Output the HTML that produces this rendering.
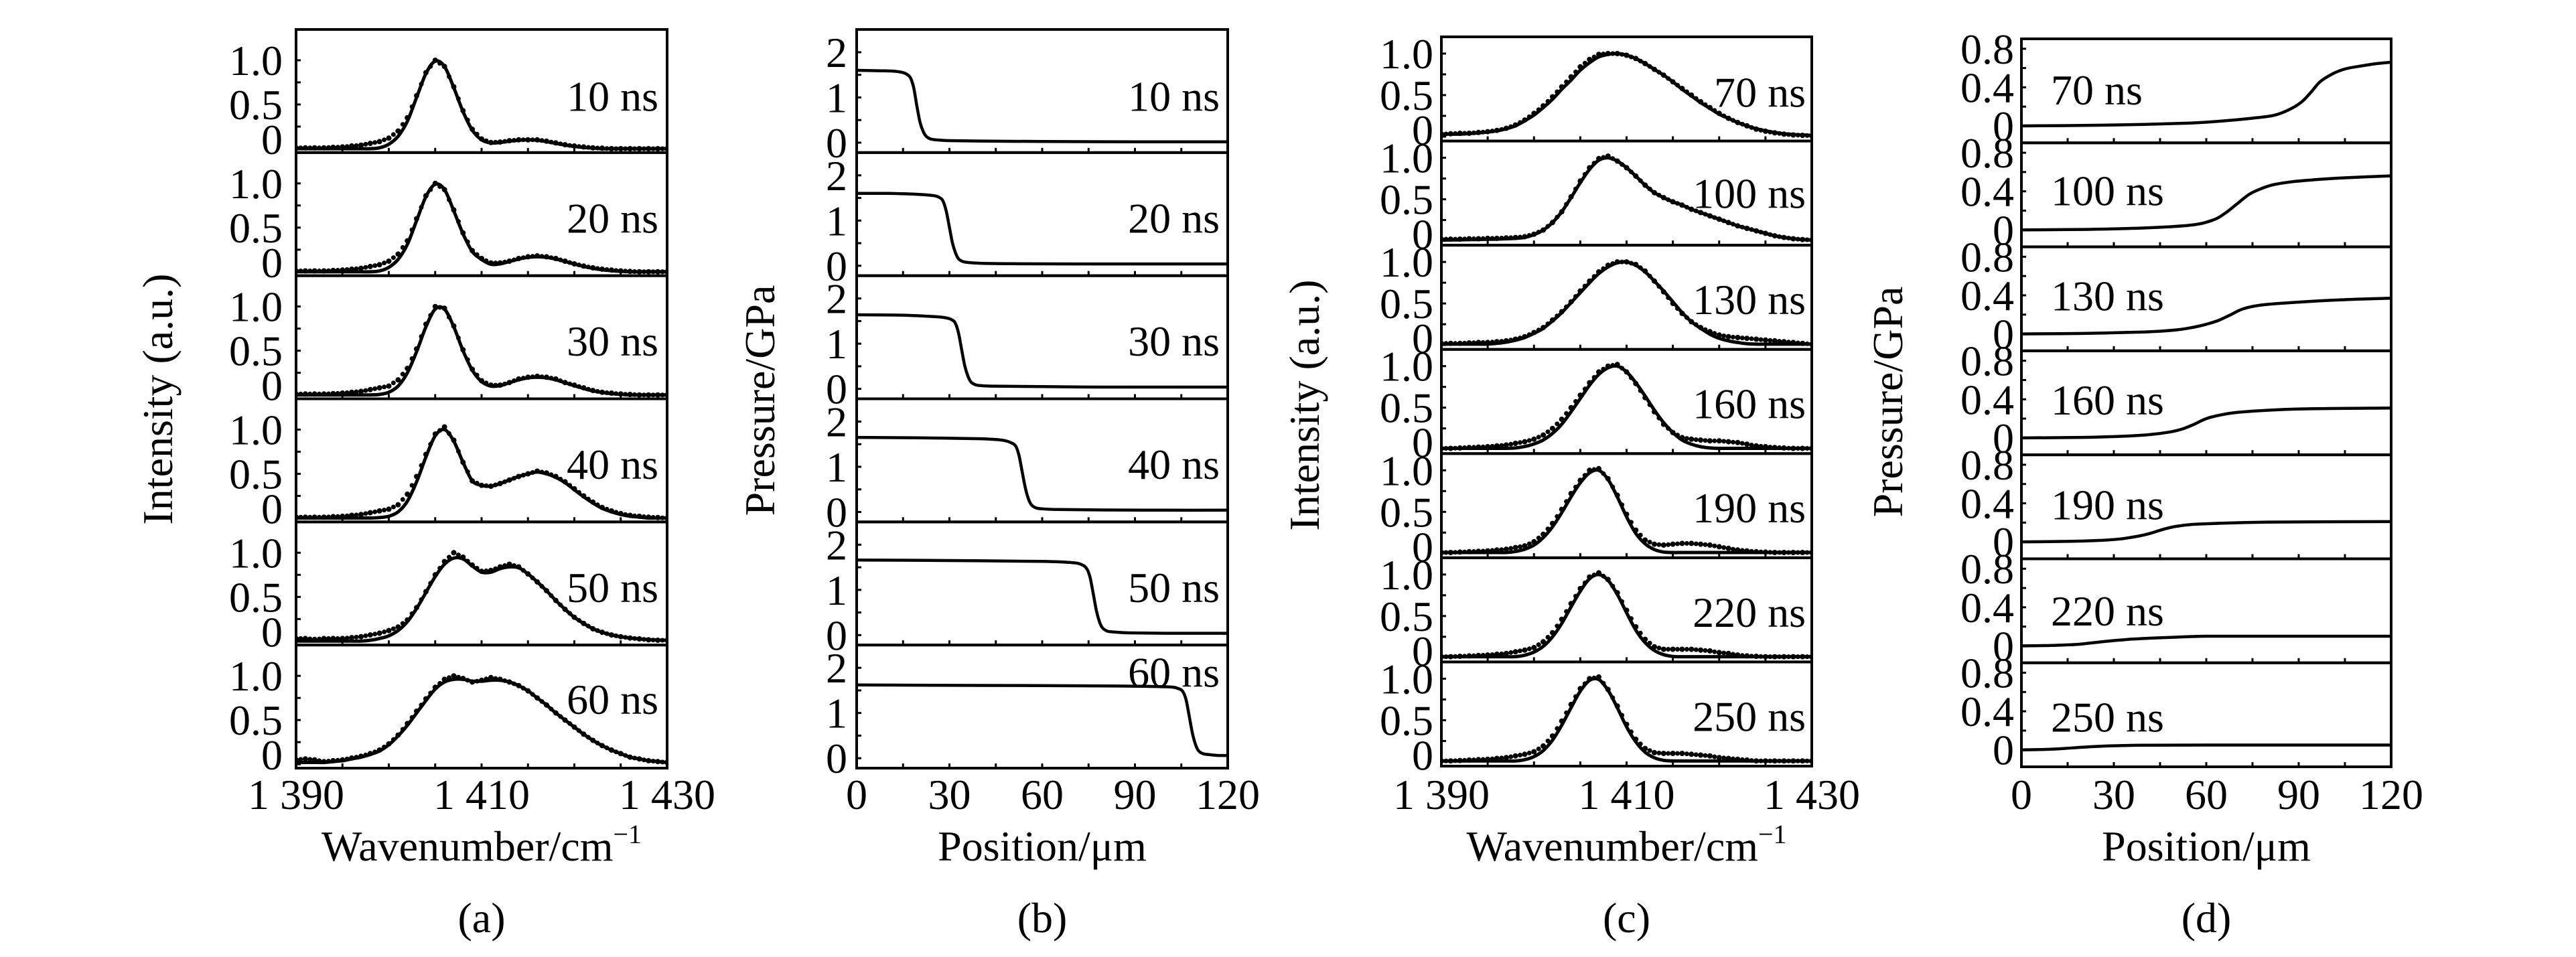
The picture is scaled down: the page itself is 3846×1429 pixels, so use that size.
<!DOCTYPE html>
<html><head><meta charset="utf-8">
<style>
html,body{margin:0;padding:0;background:#fff;}
svg{display:block;}
svg text{font-family:"Times New Roman","Times","Liberation Serif","DejaVu Serif",serif;fill:#000;}
</style></head>
<body>
<svg id="fig" xmlns="http://www.w3.org/2000/svg" width="3846" height="1429" viewBox="0 0 3846 1429">
<rect x="0" y="0" width="3846" height="1429" fill="#fff"/>
</svg>
<script>
// ---------- DATA ----------
const wavenumbers = [1390,1391,1392,1393,1394,1395,1396,1397,1398,1399,1400,1401,1402,1403,1404,1405,1406,1407,1408,1409,1410,1411,1412,1413,1414,1415,1416,1417,1418,1419,1420,1421,1422,1423,1424,1425,1426,1427,1428,1429,1430];
const labelsA = ["10 ns","20 ns","30 ns","40 ns","50 ns","60 ns"];
const labelsC = ["70 ns","100 ns","130 ns","160 ns","190 ns","220 ns","250 ns"];
const fitA = [
 [0,0,0,0,0,0,0,0,0,.01,.05,.14,.31,.58,.85,.99,.93,.69,.42,.21,.1,.065,.07,.085,.095,.1,.095,.08,.06,.04,.025,.014,.007,0,0,0,0,0,0,0,0],
 [0,0,0,0,0,0,0,0,0,.01,.05,.14,.31,.58,.85,.99,.93,.69,.43,.23,.14,.085,.09,.117,.144,.163,.17,.163,.144,.117,.088,.061,.039,.023,.012,.006,0,0,0,0,0],
 [0,0,0,0,0,0,0,0,0,.005,.03,.1,.25,.49,.77,.97,.97,.77,.5,.28,.15,.1,.104,.138,.17,.192,.2,.192,.17,.138,.104,.072,.046,.027,.014,.007,0,0,0,0,0],
 [0,0,0,0,0,0,0,0,0,.005,.02,.07,.19,.41,.69,.93,1.0,.87,.63,.42,.37,.36,.39,.43,.47,.5,.52,.5,.46,.4,.32,.24,.17,.11,.07,.04,.02,.01,0,0,0],
 [0,0,0,0,0,0,0,0,.01,.03,.06,.12,.22,.37,.55,.73,.87,.94,.93,.85,.78,.78,.82,.84,.83,.76,.67,.57,.46,.36,.27,.2,.14,.1,.07,.05,.035,.025,.018,.012,.01],
 [.02,.02,.02,.02,.03,.04,.06,.08,.11,.15,.22,.32,.44,.58,.72,.85,.93,.96,.96,.94,.94,.95,.95,.93,.89,.83,.75,.67,.58,.5,.42,.34,.27,.21,.16,.12,.08,.06,.04,.03,.02]
];
const dotsA = [
 [.01,.01,.01,.01,.015,.02,.03,.04,.06,.08,.12,.2,.35,.6,.86,1.0,.93,.7,.43,.22,.11,.07,.075,.09,.1,.1,.1,.085,.065,.045,.03,.02,.01,.005,0,0,0,0,0,0,0],
 [.01,.01,.01,.01,.015,.02,.03,.04,.06,.08,.12,.2,.35,.6,.86,1.0,.93,.7,.44,.24,.15,.1,.1,.12,.15,.17,.18,.17,.15,.12,.09,.065,.045,.03,.02,.01,.005,0,0,0,0],
 [.01,.01,.01,.01,.015,.02,.03,.04,.06,.08,.1,.17,.3,.52,.8,1.0,.98,.78,.51,.29,.16,.11,.11,.14,.18,.2,.21,.2,.18,.14,.11,.08,.05,.03,.02,.01,.005,0,0,0,0],
 [.01,.01,.01,.01,.015,.02,.03,.04,.06,.08,.1,.15,.27,.47,.72,.95,1.03,.88,.63,.42,.37,.36,.39,.43,.47,.5,.53,.51,.47,.41,.33,.25,.18,.12,.08,.05,.03,.02,.01,.005,0],
 [.03,.03,.02,.03,.03,.03,.04,.05,.07,.09,.12,.16,.24,.38,.56,.75,.9,1.0,.95,.86,.79,.8,.84,.87,.84,.76,.67,.57,.46,.36,.27,.2,.14,.1,.07,.05,.035,.025,.015,.01,.01],
 [.05,.06,.05,.03,.04,.05,.07,.09,.12,.16,.23,.33,.46,.6,.74,.87,.96,1.0,.97,.93,.95,.98,.96,.93,.89,.83,.75,.67,.58,.5,.42,.34,.27,.21,.16,.12,.08,.06,.04,.03,.02]
];
const fitC = [
 [.03,.03,.03,.037,.045,.055,.07,.095,.13,.19,.26,.35,.45,.57,.68,.8,.89,.96,.99,1.0,.98,.94,.88,.81,.74,.66,.57,.49,.41,.34,.27,.22,.17,.13,.095,.07,.05,.035,.025,.02,.015],
 [.01,.01,.012,.014,.016,.018,.02,.025,.03,.04,.075,.13,.22,.35,.52,.7,.86,.97,1.0,.96,.88,.78,.67,.58,.52,.47,.43,.38,.34,.3,.26,.22,.18,.15,.12,.09,.06,.04,.025,.015,.01],
 [.01,.01,.01,.01,.01,.01,.02,.034,.057,.09,.14,.2,.29,.39,.51,.63,.75,.86,.94,.99,1.0,.96,.88,.77,.65,.52,.39,.28,.2,.13,.08,.05,.03,.015,.01,.01,.01,.01,.01,.01,.01],
 [.01,.01,.01,.01,.01,.01,.01,.01,.015,.032,.063,.11,.19,.3,.45,.61,.77,.9,.98,1.0,.93,.8,.64,.47,.32,.2,.11,.06,.03,.015,.01,.01,.01,.01,.01,.01,.01,.01,.01,.01,.01],
 [.01,.01,.01,.01,.01,.01,.01,.01,.023,.05,.1,.19,.32,.49,.68,.85,.97,1.0,.89,.68,.44,.24,.115,.046,.016,.01,.01,.01,.01,.01,.01,.01,.01,.01,.01,.01,.01,.01,.01,.01,.01],
 [.01,.01,.01,.01,.01,.01,.01,.01,.011,.028,.066,.135,.25,.41,.61,.8,.95,1.0,.93,.76,.54,.33,.18,.085,.035,.013,.01,.01,.01,.01,.01,.01,.01,.01,.01,.01,.01,.01,.01,.01,.01],
 [.01,.01,.01,.01,.01,.01,.01,.01,.01,.025,.062,.135,.26,.44,.65,.85,.98,.99,.86,.65,.42,.24,.115,.048,.017,.01,.01,.01,.01,.01,.01,.01,.01,.01,.01,.01,.01,.01,.01,.01,.01]
];
const dotsC = [
 [.03,.035,.04,.04,.05,.06,.075,.1,.14,.2,.28,.37,.48,.6,.72,.84,.93,.99,1.0,1.0,.98,.94,.88,.81,.74,.66,.58,.5,.42,.35,.28,.22,.17,.13,.09,.065,.045,.03,.02,.015,.01],
 [.02,.02,.02,.025,.025,.03,.03,.035,.04,.05,.08,.13,.22,.35,.53,.72,.88,.99,1.02,.96,.88,.78,.67,.58,.52,.47,.43,.38,.34,.3,.26,.22,.18,.15,.12,.09,.06,.04,.025,.015,.01],
 [.02,.02,.02,.025,.03,.03,.04,.05,.07,.1,.15,.21,.3,.4,.52,.65,.77,.88,.96,1.0,1.0,.97,.89,.77,.64,.5,.38,.28,.21,.16,.12,.1,.09,.08,.07,.06,.05,.04,.03,.02,.01],
 [.01,.01,.015,.02,.025,.03,.04,.05,.07,.09,.12,.17,.25,.36,.5,.65,.8,.93,1.0,1.02,.93,.79,.62,.45,.3,.2,.14,.12,.11,.1,.1,.09,.08,.06,.04,.03,.02,.015,.01,.01,.01],
 [.01,.01,.015,.02,.025,.03,.04,.05,.07,.09,.14,.23,.36,.53,.72,.88,1.0,1.02,.9,.7,.47,.28,.16,.11,.1,.11,.12,.12,.11,.1,.08,.06,.04,.03,.02,.015,.01,.01,.01,.01,.01],
 [.01,.01,.015,.02,.025,.03,.04,.05,.07,.09,.12,.19,.3,.46,.65,.83,.97,1.02,.94,.78,.57,.37,.22,.13,.1,.1,.1,.1,.09,.08,.06,.05,.03,.02,.015,.01,.01,.01,.01,.01,.01],
 [.01,.01,.015,.02,.025,.03,.04,.05,.07,.09,.12,.19,.31,.49,.69,.88,1.0,1.02,.87,.67,.45,.27,.16,.11,.1,.1,.1,.09,.08,.07,.05,.04,.03,.02,.01,.01,.01,.01,.01,.01,.01]
];
const labelsB = ["10 ns","20 ns","30 ns","40 ns","50 ns","60 ns"];
const posB = [
 [0,8,12,15,16.5,17.5,18.5,19.5,20.5,21.5,22.5,24,26,30,40,60,90,120],
 [0,10,20,25,27,28,29,30,31,32,33,34.5,36.5,40,50,70,100,120],
 [0,15,25,29,31,32,33,34,35,36,37,38.5,40.5,45,60,80,100,120],
 [0,20,40,47,50,51.5,52.5,53.5,54.5,55.5,56.5,58,60,65,80,100,120],
 [0,30,60,70,73,74.5,75.5,76.5,77.5,78.5,79.5,81,83,88,100,120],
 [0,40,80,100,104,105.5,106.5,107.5,108.5,109.5,110.5,112,114,117,120]
];
const presB = [
 [1.6,1.59,1.58,1.55,1.5,1.42,1.2,0.8,0.45,0.25,0.14,0.08,0.06,0.045,0.035,0.025,0.02,0.02],
 [1.6,1.6,1.58,1.55,1.5,1.42,1.2,0.85,0.5,0.28,0.15,0.09,0.07,0.055,0.045,0.04,0.04,0.04],
 [1.64,1.63,1.6,1.57,1.52,1.44,1.22,0.85,0.5,0.28,0.15,0.09,0.07,0.06,0.05,0.04,0.04,0.04],
 [1.65,1.64,1.62,1.59,1.53,1.45,1.25,0.9,0.55,0.3,0.16,0.09,0.07,0.055,0.045,0.04,0.04],
 [1.66,1.65,1.63,1.6,1.55,1.46,1.27,0.92,0.55,0.3,0.16,0.09,0.07,0.05,0.04,0.04],
 [1.62,1.61,1.6,1.58,1.54,1.47,1.3,0.95,0.58,0.32,0.17,0.1,0.08,0.06,0.06]
];
const labelsD = ["70 ns","100 ns","130 ns","160 ns","190 ns","220 ns","250 ns"];
const posD = [
 [0,20,40,55,65,75,82,87,91,94,97,101,105,110,115,120],
 [0,20,40,55,62,66,70,74,78,82,88,95,105,120],
 [0,20,40,50,56,60,64,68,72,78,90,105,120],
 [0,20,35,42,48,52,56,60,65,72,90,120],
 [0,15,25,32,38,42,46,50,55,62,80,120],
 [0,10,18,24,30,36,42,50,60,80,120],
 [0,8,14,20,26,32,40,60,120]
];
const presD = [
 [0,0.005,0.015,0.03,0.05,0.08,0.11,0.17,0.25,0.35,0.46,0.54,0.59,0.62,0.645,0.66],
 [0,0.005,0.02,0.05,0.1,0.17,0.27,0.37,0.43,0.47,0.5,0.52,0.54,0.56],
 [0,0.005,0.02,0.04,0.07,0.1,0.14,0.2,0.26,0.3,0.33,0.355,0.37],
 [0,0.005,0.02,0.035,0.06,0.09,0.14,0.2,0.24,0.27,0.3,0.31],
 [0,0.005,0.015,0.03,0.06,0.09,0.13,0.16,0.18,0.19,0.205,0.21],
 [0,0.005,0.015,0.035,0.055,0.07,0.08,0.09,0.1,0.1,0.1],
 [0,0.005,0.015,0.028,0.038,0.044,0.048,0.05,0.05]
];
const wnTicks = [1390,1410,1430];
const wnTickLabels = ["1 390","1 410","1 430"];
const posTicks = [0,30,60,90,120];
const posTickLabels = ["0","30","60","90","120"];

// ---------- DRAWING ----------
const NS = "http://www.w3.org/2000/svg";
const svg = document.getElementById("fig");
function mk(tag, attrs, parent){
  const e = document.createElementNS(NS, tag);
  for (const k in attrs) e.setAttribute(k, attrs[k]);
  (parent||svg).appendChild(e);
  return e;
}
function smooth(pts){
  let d = "M" + pts[0][0].toFixed(1) + "," + pts[0][1].toFixed(1);
  for (let i=0;i<pts.length-1;i++){
    const p0=pts[i-1]||pts[i], p1=pts[i], p2=pts[i+1], p3=pts[i+2]||pts[i+1];
    const c1x=p1[0]+(p2[0]-p0[0])/6, c1y=p1[1]+(p2[1]-p0[1])/6;
    const c2x=p2[0]-(p3[0]-p1[0])/6, c2y=p2[1]-(p3[1]-p1[1])/6;
    d += " C"+c1x.toFixed(1)+","+c1y.toFixed(1)+" "+c2x.toFixed(1)+","+c2y.toFixed(1)+" "+p2[0].toFixed(1)+","+p2[1].toFixed(1);
  }
  return d;
}
let clipId = 0;
function panel(cfg){
  const g = mk("g", {});
  
  
  const n = cfg.n, h = (cfg.bottom-cfg.top)/n, w = cfg.right-cfg.left;
  const xs = v => cfg.left + (v-cfg.xmin)/(cfg.xmax-cfg.xmin)*w;
  for (let i=0;i<n;i++){
    const top = cfg.top + i*h;
    const ys = v => top + cfg.y0off - v*cfg.yscale;
    const sg = mk("g", {}, g);
    
    
    const cid = "clip" + (clipId++);
    const cp = mk("clipPath", {id:cid}, sg);
    mk("rect", {x:cfg.left, y:top, width:w, height:h}, cp);
    const cg = mk("g", {"clip-path":"url(#"+cid+")"}, sg);
    if (cfg.type === "spec"){
      const fit = cfg.fit[i], dots = cfg.dots[i];
      const pts = wavenumbers.map((x,k)=>[xs(x), ys(fit[k])]);
      const line = mk("path", {d:smooth(pts), fill:"none", stroke:"#000", "stroke-width":5, "stroke-linejoin":"round"}, cg);
      
      
      wavenumbers.forEach((x,k)=>{
        const c = mk("circle", {cx:xs(x).toFixed(1), cy:ys(dots[k]).toFixed(1), r:4, fill:"#000"}, cg);
        
        
        if (k < wavenumbers.length-1){
          const c2 = mk("circle", {cx:xs(x+0.5).toFixed(1), cy:ys((dots[k]+dots[k+1])/2).toFixed(1), r:3.5, fill:"#000"}, cg);
          
          
        }
      });
    } else {
      const px = cfg.pos[i], pv = cfg.pres[i];
      const pts = px.map((x,k)=>[xs(x), ys(pv[k])]);
      const line = mk("path", {d:smooth(pts), fill:"none", stroke:"#000", "stroke-width":4.5, "stroke-linejoin":"round"}, cg);
      
      
    }
    const fr = mk("rect", {x:cfg.left, y:top, width:w, height:h, fill:"none", stroke:"#000", "stroke-width":4}, sg);
    
    
    for (let v=cfg.yMinorStart; v<=cfg.yMinorEnd+1e-9; v+=cfg.yMinor){
      const y = ys(v);
      mk("line", {x1:cfg.left, x2:cfg.left+7, y1:y, y2:y, stroke:"#000", "stroke-width":3}, sg);
    }
    cfg.yLabels.forEach((lab,k)=>{
      const v = cfg.yLabelVals[k];
      let y = ys(v) + 22 + (v===0 ? cfg.zeroShift : 0);
      const t = mk("text", {x:cfg.left-cfg.labGap, y:y, "font-size":64, "text-anchor":"end"}, sg);
      t.textContent = lab;
      
      
    });
    for (let v=cfg.xmin; v<=cfg.xmax+1e-9; v+=cfg.xMinor){
      const x = xs(v);
      mk("line", {x1:x, x2:x, y1:top+h, y2:top+h-7, stroke:"#000", "stroke-width":3}, sg);
    }
    const lt = mk("text", {x:cfg.labX, y:top + h*cfg.labRel[i] + 22, "font-size":64, "text-anchor":cfg.labAnchor}, sg);
    lt.textContent = cfg.labels[i];
    
    
  }
  cfg.xTicks.forEach((v,k)=>{
    const t = mk("text", {x:xs(v), y:1208, "font-size":64, "text-anchor":"middle"}, g);
    t.textContent = cfg.xTickLabels[k];
    
    
  });
  const xt = mk("text", {x:(cfg.left+cfg.right)/2, y:1285, "font-size":64, "text-anchor":"middle"}, g);
  xt.textContent = cfg.xTitle;
  if (cfg.xSup){ const s = mk("tspan", {dy:-26, "font-size":40}, xt); s.textContent = cfg.xSup; }
  
  
  const yt = mk("text", {x:0, y:0, "font-size":64, "text-anchor":"middle", transform:"translate("+cfg.yTitleX+","+cfg.yTitleY+") rotate(-90)"}, g);
  yt.textContent = cfg.yTitle;
  
  
  const pl = mk("text", {x:(cfg.left+cfg.right)/2, y:1392, "font-size":64, "text-anchor":"middle"}, g);
  pl.textContent = cfg.panelLabel;
  
  
}

panel({name:"panel-a", type:"spec", left:442, right:996, top:44, bottom:1147, n:6,
  xmin:1390, xmax:1430, xMinor:5, y0off:178, yscale:132,
  yMinor:0.25, yMinorStart:0, yMinorEnd:1.0, yLabels:["1.0","0.5","0"], yLabelVals:[1,0.5,0], zeroShift:-14, labGap:20,
  fit:fitA, dots:dotsA, labels:labelsA, labX:983, labAnchor:"end", labRel:[0.54,0.53,0.53,0.53,0.53,0.44],
  xTicks:wnTicks, xTickLabels:wnTickLabels, xTitle:"Wavenumber/cm", xSup:"\u22121",
  yTitle:"Intensity (a.u.)", yTitleX:257, yTitleY:596, panelLabel:"(a)"});
panel({name:"panel-b", type:"pres", left:1279, right:1833, top:44, bottom:1147, n:6,
  xmin:0, xmax:120, xMinor:15, y0off:169, yscale:67.5,
  yMinor:0.5, yMinorStart:0, yMinorEnd:2.0, yLabels:["2","1","0"], yLabelVals:[2,1,0], zeroShift:0, labGap:14,
  pos:posB, pres:presB, labels:labelsB, labX:1821, labAnchor:"end", labRel:[0.54,0.53,0.53,0.53,0.53,0.22],
  xTicks:posTicks, xTickLabels:posTickLabels, xTitle:"Position/\u03bcm",
  yTitle:"Pressure/GPa", yTitleX:1156, yTitleY:598, panelLabel:"(b)"});
panel({name:"panel-c", type:"spec", left:2152, right:2705, top:55, bottom:1144, n:7,
  xmin:1390, xmax:1430, xMinor:5, y0off:149, yscale:124,
  yMinor:0.25, yMinorStart:0, yMinorEnd:1.0, yLabels:["1.0","0.5","0"], yLabelVals:[1,0.5,0], zeroShift:-10, labGap:12,
  fit:fitC, dots:dotsC, labels:labelsC, labX:2696, labAnchor:"end", labRel:[0.53,0.5,0.52,0.52,0.52,0.52,0.52],
  xTicks:wnTicks, xTickLabels:wnTickLabels, xTitle:"Wavenumber/cm", xSup:"\u22121",
  yTitle:"Intensity (a.u.)", yTitleX:1969, yTitleY:605, panelLabel:"(c)"});
panel({name:"panel-d", type:"pres", left:3018, right:3570, top:58, bottom:1145, n:7,
  xmin:0, xmax:120, xMinor:15, y0off:130, yscale:144,
  yMinor:0.2, yMinorStart:0, yMinorEnd:0.8, yLabels:["0.8","0.4","0"], yLabelVals:[0.8,0.4,0], zeroShift:0, labGap:11,
  pos:posD, pres:presD, labels:labelsD, labX:3062, labAnchor:"start", labRel:[0.49,0.46,0.47,0.47,0.48,0.5,0.52],
  xTicks:posTicks, xTickLabels:posTickLabels, xTitle:"Position/\u03bcm",
  yTitle:"Pressure/GPa", yTitleX:2840, yTitleY:600, panelLabel:"(d)"});
</script>
</body></html>
